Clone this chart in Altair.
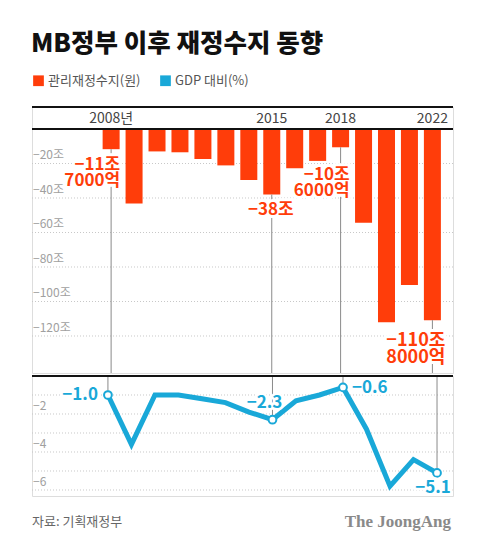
import altair as alt
import pandas as pd

# ---------------- data ----------------
years = list(range(2008, 2023))
balance = [-11.7, -43.2, -13.0, -13.5, -17.4, -21.1, -29.5, -38.0, -22.7, -18.5, -10.6, -54.4, -112.0, -90.5, -110.8]
gdp_ratio = [-1.0, -3.6, -1.0, -1.0, -1.2, -1.4, -1.9, -2.3, -1.3, -1.0, -0.6, -2.8, -5.8, -4.4, -5.1]

series_names = ["관리재정수지(원)", "GDP 대비(%)"]
series_colors = ["#ff3d0a", "#19a8d8"]

year_label_years = [2008, 2015, 2018, 2022]
year_label_text = ["2008년", "2015", "2018", "2022"]

bar_ticks = [-20, -40, -60, -80, -100, -120]
bar_tick_text = ["−20조", "−40조", "−60조", "−80조", "−100조", "−120조"]
line_grid = [-1, -2, -3, -4, -5, -6]
line_ticks = [-2, -4, -6]
line_tick_text = ["−2", "−4", "−6"]

bar_labels = {2008: "−11조\n7000억", 2015: "−38조", 2018: "−10조\n6000억", 2022: "−110조\n8000억"}
line_labels = {2008: "−1.0", 2015: "−2.3", 2018: "−0.6", 2022: "−5.1"}

title_text = "MB정부 이후 재정수지 동향"
source_text = "자료: 기획재정부"
brand_text = "The JoongAng"

# ---------------- tables ----------------
df = pd.DataFrame({"year": years, "balance": balance, "gdp": gdp_ratio,
                   "series": [series_names[0]] * len(years)})
hl = df[df["year"].isin(year_label_years)].copy()
hl["blabel"] = [bar_labels[y] for y in hl["year"]]
hl["llabel"] = [line_labels[y] for y in hl["year"]]
ylab = pd.DataFrame({"year": year_label_years, "text": year_label_text})
bt = pd.DataFrame({"v": bar_ticks, "t": bar_tick_text})
lg = pd.DataFrame({"v": line_grid})
lt = pd.DataFrame({"v": line_ticks, "t": line_tick_text})

FONT = "Noto Sans CJK KR"
W = 421
H_TOP = 266
H_BOT = 120
ORANGE, BLUE = series_colors

xs = alt.Scale(domain=[2004.77, 2022.68], nice=False, zero=False)
X = alt.X("year:Q", scale=xs, axis=None)
ys_top = alt.Scale(domain=[-141.45, 12.75], nice=False, zero=False)
ys_bot = alt.Scale(domain=[-6.316, 0], nice=False, zero=False)

# ---------------- top panel (bars) ----------------
base_top = alt.Chart(df)

grid_top = alt.Chart(bt).mark_rule(color="#c8c8c8", strokeDash=[1, 2], strokeWidth=1).encode(
    y=alt.Y("v:Q", scale=ys_top, axis=None))
tick_top = alt.Chart(bt).mark_text(align="left", baseline="bottom", dy=-1, fontSize=12,
                                   color="#a0a0a0", font=FONT).encode(
    x=alt.value(1), y=alt.Y("v:Q", scale=ys_top), text="t:N")
top_line = alt.Chart(bt).mark_rule(color="#111", strokeWidth=1).encode(y=alt.value(0))
zero_top = alt.Chart(bt).mark_rule(color="#111", strokeWidth=1.5).encode(y=alt.datum(0, scale=ys_top))

bars = base_top.mark_bar(size=17).encode(
    x=X,
    y=alt.Y("balance:Q", scale=ys_top),
    y2=alt.datum(0),
    color=alt.Color("series:N",
                    scale=alt.Scale(domain=series_names, range=series_colors),
                    legend=alt.Legend(title=None, orient="none", legendX=0, legendY=-33,
                                      direction="horizontal", columns=2,
                                      symbolType="square", symbolSize=115,
                                      symbolStrokeWidth=0, labelFontSize=13,
                                      labelColor="#555", labelFont=FONT,
                                      labelOffset=3, columnPadding=18, padding=0)),
)
year_text = alt.Chart(ylab).mark_text(fontSize=14, color="#444", baseline="middle", font=FONT).encode(
    x=X, y=alt.value(12), text="text:N")
vr_top = alt.Chart(hl).mark_rule(color="#8a8a8a", strokeWidth=1).encode(
    x=X, y=alt.Y("balance:Q", scale=ys_top), y2=alt.value(H_TOP))

title_mark = alt.Chart(pd.DataFrame({"t": [title_text]})).mark_text(
    align="left", baseline="alphabetic", fontSize=25.5, fontWeight=900, color="#111",
    font=FONT).encode(x=alt.value(-1), y=alt.value(-55), text="t:N")


def blabel(year, align, dx, dy, size=17):
    d = hl[hl["year"] == year]
    common = dict(align=align, baseline="top", dx=dx, dy=dy, fontSize=size, fontWeight="bold",
                  lineBreak="\n", lineHeight=size - 1, font=FONT)
    enc = dict(x=X, y=alt.Y("balance:Q", scale=ys_top), text="blabel:N")
    halo = alt.Chart(d).mark_text(stroke="white", strokeWidth=6, fill="white", **common).encode(**enc)
    fill = alt.Chart(d).mark_text(fill=ORANGE, **common).encode(**enc)
    return halo + fill


top = alt.layer(
    grid_top, tick_top, top_line, bars, zero_top, vr_top, year_text,
    blabel(2008, "right", 9, 8), blabel(2015, "center", -1, 7),
    blabel(2018, "right", 9, 20), blabel(2022, "right", 13, 12, 18),
    title_mark,
).properties(width=W, height=H_TOP)

# ---------------- bottom panel (line) ----------------
grid_bot = alt.Chart(lg).mark_rule(color="#c8c8c8", strokeDash=[1, 2], strokeWidth=1).encode(
    y=alt.Y("v:Q", scale=ys_bot, axis=None))
tick_bot = alt.Chart(lt).mark_text(align="left", baseline="bottom", dy=-1, fontSize=12,
                                   color="#a0a0a0", font=FONT).encode(
    x=alt.value(1), y=alt.Y("v:Q", scale=ys_bot), text="t:N")
zero_bot = alt.Chart(lt).mark_rule(color="#111", strokeWidth=1.5).encode(y=alt.datum(0, scale=ys_bot))
vr_bot = alt.Chart(hl).mark_rule(color="#8a8a8a", strokeWidth=1).encode(
    x=X, y=alt.Y("gdp:Q", scale=ys_bot), y2=alt.value(0))
line = alt.Chart(df).mark_line(color=BLUE, strokeWidth=5, strokeJoin="miter").encode(
    x=X, y=alt.Y("gdp:Q", scale=ys_bot))
pts = alt.Chart(hl).mark_point(filled=True, fill="white", stroke=BLUE, strokeWidth=2,
                               size=60, opacity=1).encode(x=X, y=alt.Y("gdp:Q", scale=ys_bot))


def llabel(year, align, dx, dy):
    d = hl[hl["year"] == year]
    common = dict(align=align, baseline="middle", dx=dx, dy=dy, fontSize=17,
                  fontWeight="bold", font=FONT)
    enc = dict(x=X, y=alt.Y("gdp:Q", scale=ys_bot), text="llabel:N")
    halo = alt.Chart(d).mark_text(stroke="white", strokeWidth=5, fill="white", **common).encode(**enc)
    fill = alt.Chart(d).mark_text(fill=BLUE, **common).encode(**enc)
    return halo + fill


foot = pd.DataFrame({"t": [source_text]})
src = alt.Chart(foot).mark_text(align="left", baseline="middle", fontSize=13, color="#666",
                                font=FONT).encode(x=alt.value(0), y=alt.value(H_BOT + 26), text="t:N")
brand = alt.Chart(pd.DataFrame({"t": [brand_text]})).mark_text(
    align="right", baseline="middle", fontSize=17, fontWeight="bold", color="#8a8a8a",
    font="Liberation Serif").encode(x=alt.value(W - 2), y=alt.value(H_BOT + 26), text="t:N")

bottom = alt.layer(
    grid_bot, tick_bot, vr_bot, zero_bot, line, pts,
    llabel(2008, "right", -10, 0), llabel(2015, "center", -8, -17),
    llabel(2018, "left", 9, 1), llabel(2022, "center", -4, 15),
    src, brand,
).properties(width=W, height=H_BOT)

chart = alt.vconcat(top, bottom, spacing=0).properties(
    padding={"left": 22, "top": 23, "right": 10, "bottom": 5}
).configure_view(stroke=None).configure(font=FONT)

chart.save("out.html", embed_options={"renderer": "svg", "actions": False})
